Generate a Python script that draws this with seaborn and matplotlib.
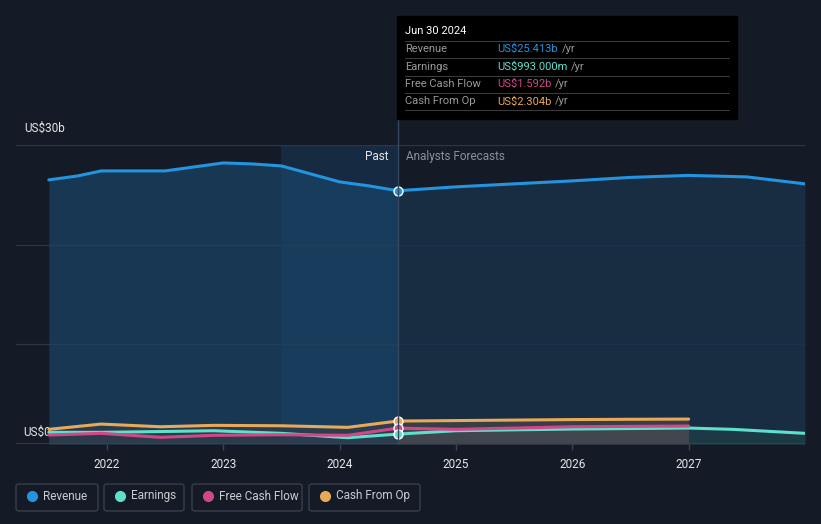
import matplotlib
matplotlib.use("Agg")
import matplotlib.pyplot as plt
from matplotlib.patches import FancyBboxPatch, Rectangle
from matplotlib.lines import Line2D
import seaborn as sns
import pandas as pd

# past values (US$ b)
past_t = [2021.5, 2021.95, 2022.46, 2022.92, 2023.5, 2024.07, 2024.5]
rev_past_t = [2021.5, 2021.75, 2021.95, 2022.25, 2022.5, 2022.75, 2023.0, 2023.25,
              2023.5, 2023.75, 2024.0, 2024.25, 2024.5]
rev_past = [26.5, 26.9, 27.4, 27.4, 27.4, 27.8, 28.2, 28.1, 27.9, 27.1, 26.3, 25.9, 25.413]
earn_past = [1.17, 1.17, 1.25, 1.33, 1.07, 0.63, 0.993]
fcf_past = [0.9, 1.07, 0.67, 0.87, 0.93, 0.87, 1.592]
cfo_past = [1.47, 2.0, 1.73, 1.87, 1.83, 1.67, 2.304]

# analyst forecasts
fc_t = [2024.5, 2025.0, 2025.5, 2026.0, 2026.5, 2027.0]
rev_fc_t = [2024.5, 2025.0, 2025.5, 2026.0, 2026.5, 2027.0, 2027.5, 2028.0]
rev_fc = [25.413, 25.8, 26.1, 26.4, 26.75, 26.95, 26.8, 26.1]
earn_fc_t = [2024.5, 2025.0, 2025.5, 2026.0, 2026.5, 2027.0, 2027.38, 2028.0]
earn_fc = [0.993, 1.33, 1.42, 1.5, 1.55, 1.6, 1.47, 1.07]
fcf_fc = [1.592, 1.47, 1.6, 1.73, 1.77, 1.8]
cfo_fc = [2.304, 2.35, 2.4, 2.45, 2.48, 2.5]

years = [2022, 2023, 2024, 2025, 2026, 2027]

BG = "#151b26"
C_REV = "#2394df"
C_EARN = "#5fe0cb"
C_FCF = "#d2478a"
C_CFO = "#e8a95a"

sns.set_theme(style="dark")
plt.rcParams["font.family"] = ["Roboto", "DejaVu Sans"]

fig = plt.figure(figsize=(8.21, 5.24), dpi=100, facecolor=BG)
ax = fig.add_axes([16 / 821, 80 / 524, 789 / 821, 299 / 524])
ax.set_facecolor(BG)
ax.set_xlim(2021.218, 2028.0)
ax.set_ylim(0, 30)

# highlighted last-year band
ax.axvspan(2023.5, 2024.5, color="#183a5a", alpha=0.55, lw=0, zorder=0)

# revenue areas
ax.fill_between(rev_past_t, rev_past, 0, color="#1a4466", alpha=0.7, lw=0, zorder=1)
ax.fill_between(rev_fc_t, rev_fc, 0, color="#19324a", alpha=0.8, lw=0, zorder=1)

# lower series areas
ax.fill_between(past_t, cfo_past, 0, color="#3b4048", alpha=0.55, lw=0, zorder=2)
ax.fill_between(fc_t, cfo_fc, 0, color="#3b4048", alpha=0.9, lw=0, zorder=2)
ax.fill_between(earn_fc_t[5:], earn_fc[5:], 0, color="#1f4048", alpha=0.7, lw=0, zorder=2)
ax.fill_between(fc_t, fcf_fc, 0, color="#4a4d55", alpha=0.5, lw=0, zorder=2)

for t, v, c in [(rev_past_t, rev_past, C_REV), (rev_fc_t, rev_fc, C_REV),
                (past_t, earn_past, C_EARN), (earn_fc_t, earn_fc, C_EARN),
                (past_t, fcf_past, C_FCF), (fc_t, fcf_fc, C_FCF),
                (past_t, cfo_past, C_CFO), (fc_t, cfo_fc, C_CFO)]:
    sns.lineplot(x=t, y=v, color=c, lw=2.2, ax=ax, zorder=4)

# markers at the current point
for v, c in [(rev_past[-1], C_REV), (cfo_past[-1], C_CFO),
             (fcf_past[-1], C_FCF), (earn_past[-1], C_EARN)]:
    ax.scatter([2024.5], [v], s=42, color=c, edgecolor="white", lw=1.0, zorder=6)

# grid
for g in [10, 20, 30]:
    ax.axhline(g, color="#2e3643", lw=0.9, zorder=0.5)
ax.axhline(0, color="#3c4350", lw=1.2, zorder=5)
for s in ax.spines.values():
    s.set_visible(False)
ax.grid(False)
ax.set_xticks(years)
ax.set_xticklabels([str(y) for y in years])
ax.tick_params(axis="x", colors="#3c4350", labelcolor="#e6e6e6", labelsize=8.5,
               length=4, width=1, pad=6, direction="out", bottom=True)
ax.set_yticks([])
ax.set_xlabel("")
ax.set_ylabel("")

ax.text(2021.29, 31.0, "US$30b", color="#e6e6e6", fontsize=8.5, va="bottom", ha="left")
ax.text(2021.28, 1.2, "US$0", color="#e6e6e6", fontsize=8.5, va="center", ha="left")
ax.text(2024.42, 28.8, "Past", color="#e6e6e6", fontsize=8.5, ha="right", va="center")
ax.text(2024.57, 28.8, "Analysts Forecasts", color="#8a919c", fontsize=8.5, ha="left", va="center")

# vertical divider line through tooltip
fig.add_artist(Line2D([398 / 821, 398 / 821], [1 - 16 / 524, 80 / 524],
                      transform=fig.transFigure, color="#34475c", lw=1, zorder=1))

# tooltip
def fx(px):
    return px / 821

def fy(py):
    return 1 - py / 524

fig.add_artist(Rectangle((fx(397), fy(119)), fx(737) - fx(397), fy(16) - fy(119),
                         transform=fig.transFigure, color="black", zorder=10))
fig.text(fx(405), fy(31), "Jun 30 2024", color="white", fontsize=8, va="center", zorder=11)
rows = [("Revenue", "US$25.413b", C_REV), ("Earnings", "US$993.000m", C_EARN),
        ("Free Cash Flow", "US$1.592b", C_FCF), ("Cash From Op", "US$2.304b", C_CFO)]
for i, (lab, val, c) in enumerate(rows):
    y = 49 + i * 17.5
    fig.add_artist(Line2D([fx(405), fx(729)], [fy(y - 8.5), fy(y - 8.5)],
                          transform=fig.transFigure, color="#3a3a3a", lw=0.8, zorder=11))
    fig.text(fx(405), fy(y), lab, color="#9a9a9a", fontsize=8, va="center", zorder=11)
    t = fig.text(fx(497), fy(y), val, color=c, fontsize=8, va="center", zorder=11)
    fig.canvas.draw()
    bb = t.get_window_extent()
    fig.text(bb.x1 / 821 + fx(4), fy(y), "/yr", color="#9a9a9a", fontsize=8, va="center", zorder=11)
fig.add_artist(Line2D([fx(405), fx(729)], [fy(110), fy(110)],
                      transform=fig.transFigure, color="#3a3a3a", lw=0.8, zorder=11))

# legend boxes
legend_items = [("Revenue", C_REV, 16, 98), ("Earnings", C_EARN, 104, 184),
                ("Free Cash Flow", C_FCF, 192, 302), ("Cash From Op", C_CFO, 309, 420)]
for lab, c, x0, x1 in legend_items:
    fig.add_artist(FancyBboxPatch((fx(x0), fy(511)), fx(x1) - fx(x0), fy(484) - fy(511),
                                  boxstyle="round,pad=0,rounding_size=0.004",
                                  transform=fig.transFigure, fc="none", ec="#3a404a", lw=1))
    fig.add_artist(Line2D([fx(x0 + 16)], [fy(496)], marker="o", ms=7, color=c,
                          transform=fig.transFigure, lw=0))
    fig.text(fx(x0 + 27), fy(496), lab, color="#c9ccd1", fontsize=8.5, va="center")

fig.savefig("out.png", dpi=100, facecolor=BG)
